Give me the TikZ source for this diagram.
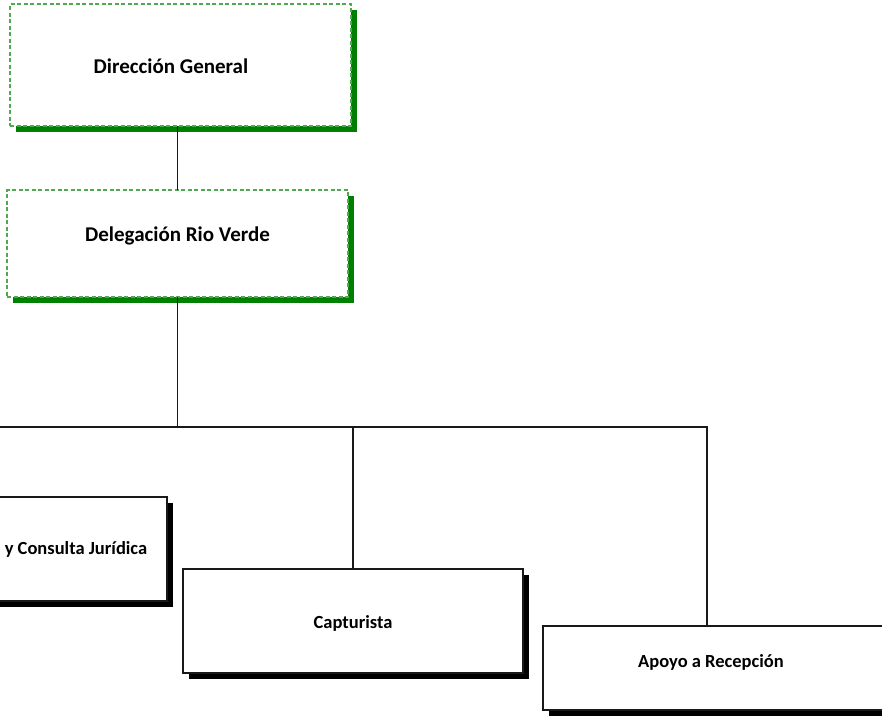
\documentclass[tikz,border=0pt]{standalone}
\usepackage{fontspec}
\setmainfont{Carlito}
\usetikzlibrary{shadows,calc}

\definecolor{dashgreen}{RGB}{80,168,80}
\definecolor{shadegreen}{RGB}{0,128,0}
\definecolor{linegray}{RGB}{25,25,25}

\tikzset{
  topbox/.style={rectangle, draw=dashgreen, line width=1.3pt, dash pattern=on 4pt off 2.5pt,
    fill=white, inner sep=0pt, outer sep=0pt,
    general shadow={fill=shadegreen, shadow xshift=6pt, shadow yshift=-6pt}},
  unitbox/.style={rectangle, draw=linegray, line width=1.3pt, fill=white, inner sep=0pt, outer sep=0pt,
    general shadow={fill=black, shadow xshift=6pt, shadow yshift=-6pt}},
  toptext/.style={font=\fontsize{21}{25}\selectfont\bfseries, anchor=base, inner sep=0pt},
  unittext/.style={font=\fontsize{18.5}{22}\selectfont\bfseries, anchor=base, inner sep=0pt},
  link/.style={draw=linegray, line width=1.8pt}
}

\begin{document}
\begin{tikzpicture}[x=1pt,y=-1pt]
\useasboundingbox (0,0) rectangle (882,716);

% organisational boxes
\node[topbox, minimum width=341pt, minimum height=122pt] (dg) at (180.5,65) {};
\node[topbox, minimum width=341pt, minimum height=107pt] (dr) at (177.5,243.5) {};
\node[unitbox, minimum width=340pt, minimum height=104pt] (jur) at (-3,549) {};
\node[unitbox, minimum width=340pt, minimum height=104pt] (cap) at (353,621) {};
\node[unitbox, minimum width=340pt, minimum height=84pt] (apo) at (713,668) {};

% box titles
\node[toptext] (dgt) at (171,73) {Dirección General};
\node[toptext] (drt) at (177.5,241) {Delegación Rio Verde};
\node[unittext] (jurt) at (76,554) {y Consulta Jurídica};
\node[unittext] (capt) at (353,628) {Capturista};
\node[unittext] (apot) at (711,667) {Apoyo a Recepción};

% connectors
\coordinate (bus) at (177.5,427);
\coordinate (apotop) at ($(apo.north west)+(164,0)$);
\draw[link] (dg.south -| dr.north) -- (dr.north);
\draw[link] (dr.south) -- (bus);
\draw[link] (jur.north) -- (jur.north |- bus) -- (apotop |- bus) -- (apotop);
\draw[link] (cap.north |- bus) -- (cap.north);
\end{tikzpicture}
\end{document}
